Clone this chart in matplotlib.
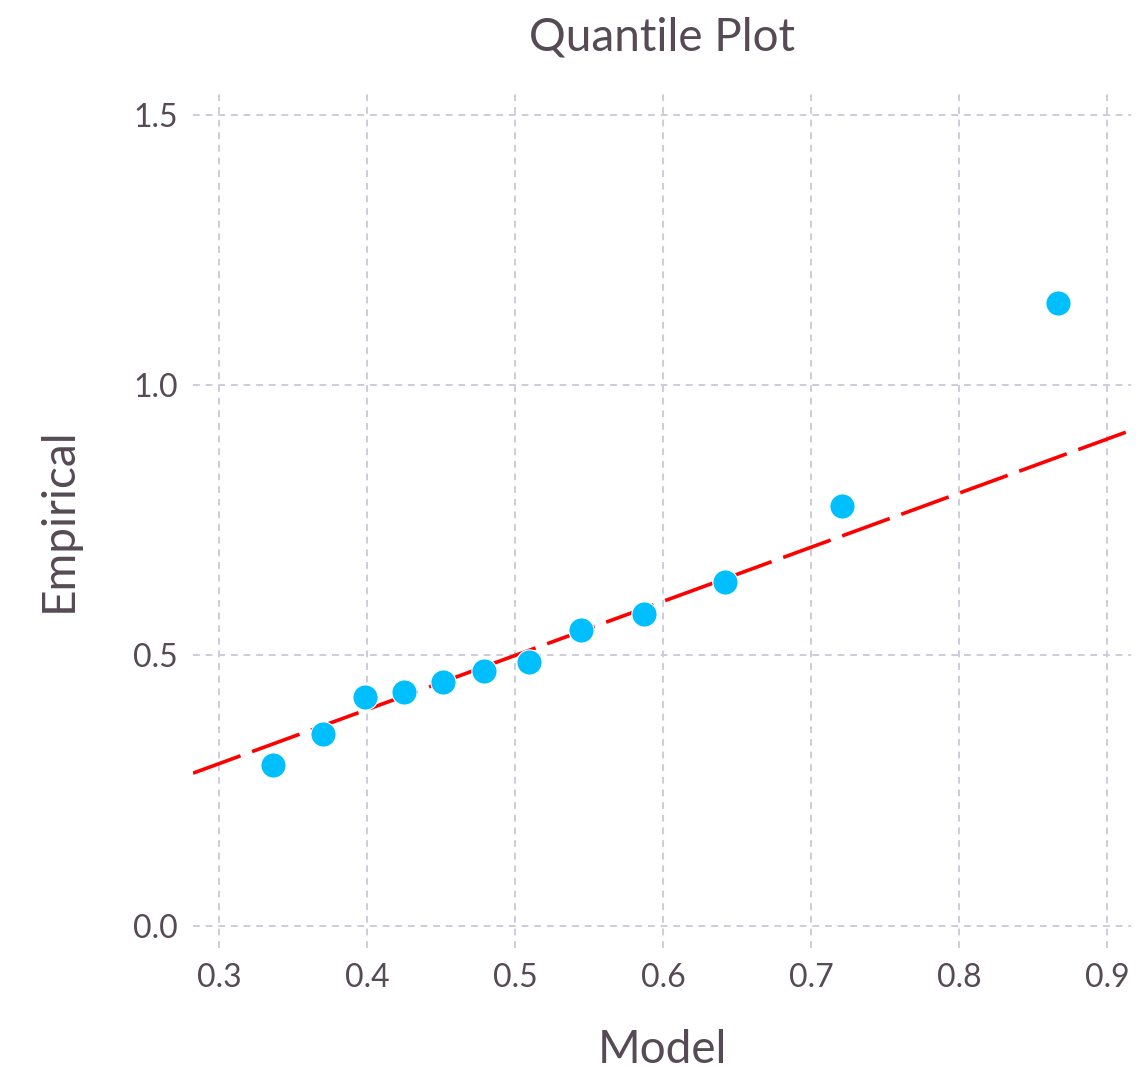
import numpy as np
import matplotlib
matplotlib.use("Agg")
import matplotlib.pyplot as plt

# quantile pairs
model_q = [0.3365, 0.3703, 0.3986, 0.4250, 0.4514, 0.4790, 0.5095,
           0.5446, 0.5870, 0.6420, 0.7210, 0.8670]
empirical_q = [0.298, 0.355, 0.423, 0.433, 0.451, 0.471, 0.488,
               0.547, 0.577, 0.636, 0.776, 1.152]

x_ticks = [0.3, 0.4, 0.5, 0.6, 0.7, 0.8, 0.9]
y_ticks = [0.0, 0.5, 1.0, 1.5]
x_range = [0.2824, 0.9162]
y_range = [-0.0407, 1.5416]

text_col = "#564A55"
grid_col = "#CCCCDC"

plt.rcParams["font.family"] = ["Lato", "DejaVu Sans"]

fig = plt.figure(figsize=(11.45, 10.76), dpi=100)
ax = fig.add_axes([0.1686, 0.1190, 0.8192, 0.7955])

# reference line y = x
ax.plot(x_range, x_range, color="red", lw=2.6, dashes=(14, 3.4), zorder=2)
ax.scatter(model_q, empirical_q, s=330, color="#00BFFF", edgecolors="white",
           linewidths=0.8, zorder=3)

ax.set_xlim(x_range)
ax.set_ylim(y_range)
ax.set_xticks(x_ticks)
ax.set_yticks(y_ticks)
ax.set_xticklabels([f"{v:.1f}" for v in x_ticks])
ax.set_yticklabels([f"{v:.1f}" for v in y_ticks])

ax.grid(True, color=grid_col, lw=1.4, dashes=(3.5, 3))
ax.set_axisbelow(True)
for s in ax.spines.values():
    s.set_visible(False)
ax.tick_params(length=0, labelsize=23, labelcolor=text_col, pad=11)

ax.set_xlabel("Model", fontsize=33, color=text_col, labelpad=26)
ax.set_ylabel("Empirical", fontsize=33, color=text_col, labelpad=38)
ax.set_title("Quantile Plot", fontsize=33, color=text_col, pad=30)

fig.savefig("out.png", dpi=100)
